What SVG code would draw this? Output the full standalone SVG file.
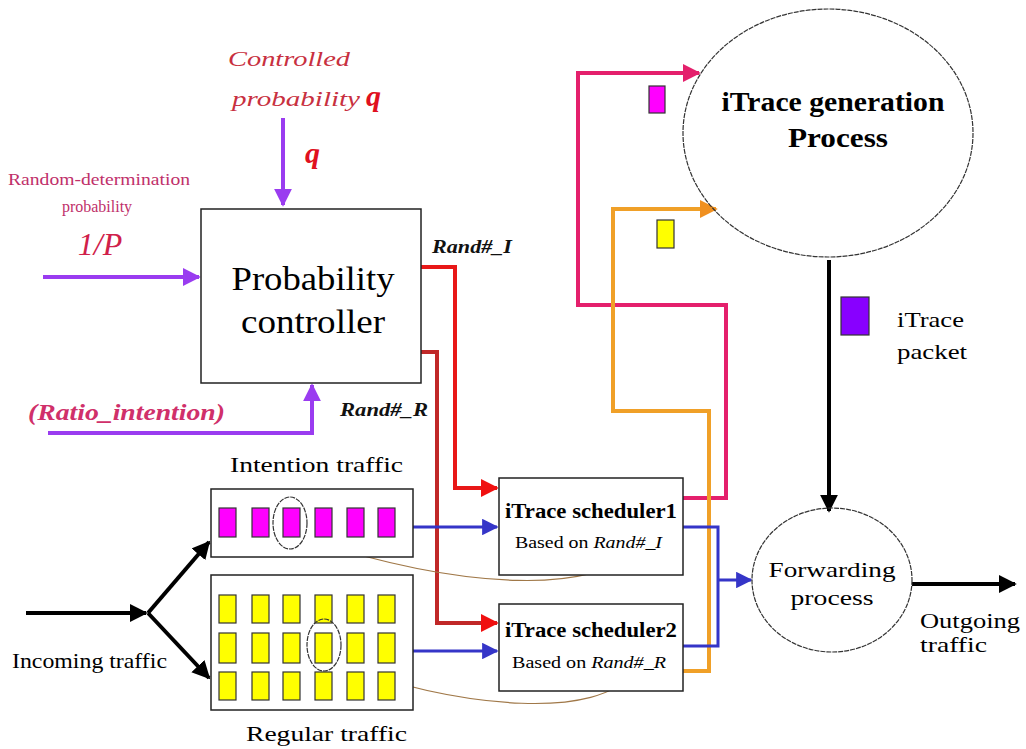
<svg xmlns="http://www.w3.org/2000/svg" width="1026" height="749" viewBox="0 0 1026 749" font-family="Liberation Serif, serif">
<defs>
<style>
.box{fill:#fff;stroke:#222;stroke-width:1.5;}
.thin{fill:none;stroke:#333;stroke-width:1.2;stroke-dasharray:5 1;}
.purple{fill:none;stroke:#9a3cf0;stroke-width:4;}
.red{fill:none;stroke:#e81818;stroke-width:4;}
.red2{fill:none;stroke:#c02828;stroke-width:4;}
.pink{fill:none;stroke:#e4206c;stroke-width:4;}
.orange{fill:none;stroke:#f0a028;stroke-width:4;}
.blue{fill:none;stroke:#3535c8;stroke-width:3;}
.black{fill:none;stroke:#000;stroke-width:4;}
.brown{fill:none;stroke:#a07848;stroke-width:1.2;}
.mag{fill:#ff00ff;stroke:#333;stroke-width:1.2;}
.yel{fill:#ffff00;stroke:#333;stroke-width:1.2;}
</style>
<marker id="aPurple" viewBox="0 0 10 10" refX="9" refY="5" markerWidth="4.5" markerHeight="4.5" orient="auto" markerUnits="strokeWidth"><path d="M0,0 L10,5 L0,10 z" fill="#9a3cf0"/></marker>
<marker id="aRed" viewBox="0 0 10 10" refX="9" refY="5" markerWidth="4.5" markerHeight="4.5" orient="auto" markerUnits="strokeWidth"><path d="M0,0 L10,5 L0,10 z" fill="#f01010"/></marker>
<marker id="aPink" viewBox="0 0 10 10" refX="9" refY="5" markerWidth="4.5" markerHeight="4.5" orient="auto" markerUnits="strokeWidth"><path d="M0,0 L10,5 L0,10 z" fill="#e4206c"/></marker>
<marker id="aOrange" viewBox="0 0 10 10" refX="9" refY="5" markerWidth="4.5" markerHeight="4.5" orient="auto" markerUnits="strokeWidth"><path d="M0,0 L10,5 L0,10 z" fill="#f09020"/></marker>
<marker id="aBlue" viewBox="0 0 10 10" refX="9" refY="5" markerWidth="5.5" markerHeight="5.5" orient="auto" markerUnits="strokeWidth"><path d="M0,0 L10,5 L0,10 z" fill="#3535c8"/></marker>
<marker id="aBlack" viewBox="0 0 10 10" refX="9" refY="5" markerWidth="4.5" markerHeight="4.5" orient="auto" markerUnits="strokeWidth"><path d="M0,0 L10,5 L0,10 z" fill="#000"/></marker>
<marker id="aBrown" viewBox="0 0 10 10" refX="9" refY="5" markerWidth="9" markerHeight="9" orient="auto" markerUnits="strokeWidth"><path d="M0,1 L10,5 L0,9 z" fill="#a07848"/></marker>
</defs>
<rect width="1026" height="749" fill="#fff"/>

<g id="connectors">
<path class="purple" d="M283,118 V205" marker-end="url(#aPurple)"/>
<path class="purple" d="M43,277 H199" marker-end="url(#aPurple)"/>
<path class="purple" d="M48,433 H312 V385" marker-end="url(#aPurple)"/>
<path class="red" d="M421,267 H455 V488 H497" marker-end="url(#aRed)"/>
<path class="red2" d="M421,352 H437 V623 H497" marker-end="url(#aRed)"/>
<path class="pink" d="M683,498 H726 V305 H578 V73 H699" marker-end="url(#aPink)"/>
<path class="orange" d="M683,671 H709 V411 H613 V209 H716" marker-end="url(#aOrange)"/>
<path class="blue" d="M413,527 H497" marker-end="url(#aBlue)"/>
<path class="blue" d="M413,651 H497" marker-end="url(#aBlue)"/>
<path class="blue" d="M683,527 H718 V646 H683 M718,580 H751" stroke-width="2.5" marker-end="url(#aBlue)"/>
<path class="black" d="M829,260 V511" marker-end="url(#aBlack)"/>
<path class="black" d="M912,584 H1015" marker-end="url(#aBlack)"/>
<path class="black" d="M26,613 H146" marker-end="url(#aBlack)"/>
<path class="black" d="M148,613 L209,542" marker-end="url(#aBlack)"/>
<path class="black" d="M148,613 L209,678" marker-end="url(#aBlack)"/>
<path class="brown" d="M633,551 C595,592 470,592 310,540" marker-end="url(#aBrown)"/>
<path class="brown" d="M633,673 C598,718 470,712 334,663" marker-end="url(#aBrown)"/>
</g>

<g id="labels-inputs" font-family="Liberation Serif, serif">
<text x="228" y="66" font-size="22" font-style="italic" fill="#c83040" textLength="122" lengthAdjust="spacingAndGlyphs">Controlled</text>
<text x="232" y="106" font-size="22" font-style="italic" fill="#c83040" textLength="128" lengthAdjust="spacingAndGlyphs">probability</text>
<text x="366" y="106" font-size="30" font-style="italic" font-weight="bold" fill="#e01020">q</text>
<text x="305" y="163" font-size="30" font-style="italic" font-weight="bold" fill="#e01020">q</text>
<text x="99" y="185" font-size="16" fill="#c0306a" text-anchor="middle" textLength="182" lengthAdjust="spacingAndGlyphs">Random-determination</text>
<text x="97" y="212" font-size="16" fill="#c0306a" text-anchor="middle">probability</text>
<text x="100" y="255" font-size="32" font-style="italic" fill="#d0204a" text-anchor="middle">1/P</text>
<text x="28" y="420" font-size="24" font-style="italic" font-weight="bold" fill="#d0306a" textLength="197" lengthAdjust="spacingAndGlyphs">(Ratio_intention)</text>
<text x="432" y="253" font-size="18" font-style="italic" font-weight="bold" fill="#111" textLength="80" lengthAdjust="spacingAndGlyphs">Rand#_I</text>
<text x="340" y="416" font-size="18" font-style="italic" font-weight="bold" fill="#111" textLength="88" lengthAdjust="spacingAndGlyphs">Rand#_R</text>
</g>

<g id="probability-controller" font-family="Liberation Serif, serif">
<rect class="box" x="201" y="209" width="220" height="174"/>
<text x="313" y="290" font-size="34" text-anchor="middle" textLength="163" lengthAdjust="spacingAndGlyphs">Probability</text>
<text x="313" y="333" font-size="34" text-anchor="middle" textLength="144" lengthAdjust="spacingAndGlyphs">controller</text>
</g>

<g id="itrace-generation" font-family="Liberation Serif, serif">
<ellipse class="thin" cx="828" cy="133" rx="145" ry="124"/>
<text x="833" y="111" font-size="28" font-weight="bold" text-anchor="middle" textLength="223" lengthAdjust="spacingAndGlyphs">iTrace generation</text>
<text x="838" y="147" font-size="28" font-weight="bold" text-anchor="middle" textLength="100" lengthAdjust="spacingAndGlyphs">Process</text>
</g>

<g id="packets-marks" font-family="Liberation Serif, serif">
<rect class="mag" x="649" y="86" width="16" height="27"/>
<rect class="yel" x="657" y="220" width="17" height="28"/>
<rect x="841" y="297" width="28" height="38" fill="#8800ff" stroke="#333" stroke-width="1.2"/>
<text x="897" y="327" font-size="21" textLength="67" lengthAdjust="spacingAndGlyphs">iTrace</text>
<text x="897" y="359" font-size="21" textLength="70" lengthAdjust="spacingAndGlyphs">packet</text>
</g>

<g id="scheduler1" font-family="Liberation Serif, serif">
<rect class="box" x="499" y="478" width="184" height="97"/>
<text x="591" y="518" font-size="20" font-weight="bold" text-anchor="middle" textLength="172" lengthAdjust="spacingAndGlyphs">iTrace scheduler1</text>
<text x="515" y="548" font-size="17" textLength="147" lengthAdjust="spacingAndGlyphs">Based on <tspan font-style="italic">Rand#_I</tspan></text>
</g>

<g id="scheduler2" font-family="Liberation Serif, serif">
<rect class="box" x="499" y="604" width="184" height="87"/>
<text x="591" y="637" font-size="20" font-weight="bold" text-anchor="middle" textLength="172" lengthAdjust="spacingAndGlyphs">iTrace scheduler2</text>
<text x="512" y="668" font-size="17" textLength="154" lengthAdjust="spacingAndGlyphs">Based on <tspan font-style="italic">Rand#_R</tspan></text>
</g>

<g id="forwarding" font-family="Liberation Serif, serif">
<ellipse class="thin" cx="832" cy="580" rx="80" ry="72"/>
<text x="832" y="577" font-size="22" text-anchor="middle" textLength="127" lengthAdjust="spacingAndGlyphs">Forwarding</text>
<text x="832" y="605" font-size="22" text-anchor="middle" textLength="83" lengthAdjust="spacingAndGlyphs">process</text>
<text x="920" y="628" font-size="22" textLength="100" lengthAdjust="spacingAndGlyphs">Outgoing</text>
<text x="920" y="652" font-size="22" textLength="67" lengthAdjust="spacingAndGlyphs">traffic</text>
</g>

<g id="intention-traffic" font-family="Liberation Serif, serif">
<text x="230" y="472" font-size="22" textLength="173" lengthAdjust="spacingAndGlyphs">Intention traffic</text>
<rect class="box" x="211" y="489" width="202" height="68"/>
<rect class="mag" x="219" y="508" width="17" height="29"/>
<rect class="mag" x="252" y="508" width="17" height="29"/>
<rect class="mag" x="283" y="508" width="17" height="29"/>
<rect class="mag" x="315" y="508" width="17" height="29"/>
<rect class="mag" x="347" y="508" width="17" height="29"/>
<rect class="mag" x="378" y="508" width="17" height="29"/>
<ellipse class="thin" cx="290" cy="523" rx="17" ry="26"/>
</g>

<g id="regular-traffic" font-family="Liberation Serif, serif">
<rect class="box" x="211" y="575" width="202" height="135"/>
<rect class="yel" x="219" y="595" width="17" height="28"/><rect class="yel" x="252" y="595" width="17" height="28"/><rect class="yel" x="283" y="595" width="17" height="28"/><rect class="yel" x="315" y="595" width="17" height="28"/><rect class="yel" x="347" y="595" width="17" height="28"/><rect class="yel" x="378" y="595" width="17" height="28"/>
<rect class="yel" x="219" y="633" width="17" height="30"/><rect class="yel" x="252" y="633" width="17" height="30"/><rect class="yel" x="283" y="633" width="17" height="30"/><rect class="yel" x="315" y="633" width="17" height="30"/><rect class="yel" x="347" y="633" width="17" height="30"/><rect class="yel" x="378" y="633" width="17" height="30"/>
<rect class="yel" x="219" y="672" width="17" height="28"/><rect class="yel" x="252" y="672" width="17" height="28"/><rect class="yel" x="283" y="672" width="17" height="28"/><rect class="yel" x="315" y="672" width="17" height="28"/><rect class="yel" x="347" y="672" width="17" height="28"/><rect class="yel" x="378" y="672" width="17" height="28"/>
<ellipse class="thin" cx="324" cy="645" rx="17" ry="26"/>
<text x="246" y="741" font-size="22" textLength="161" lengthAdjust="spacingAndGlyphs">Regular traffic</text>
</g>

<g id="incoming" font-family="Liberation Serif, serif">
<text x="12" y="668" font-size="21" textLength="155" lengthAdjust="spacingAndGlyphs">Incoming traffic</text>
</g>
</svg>
